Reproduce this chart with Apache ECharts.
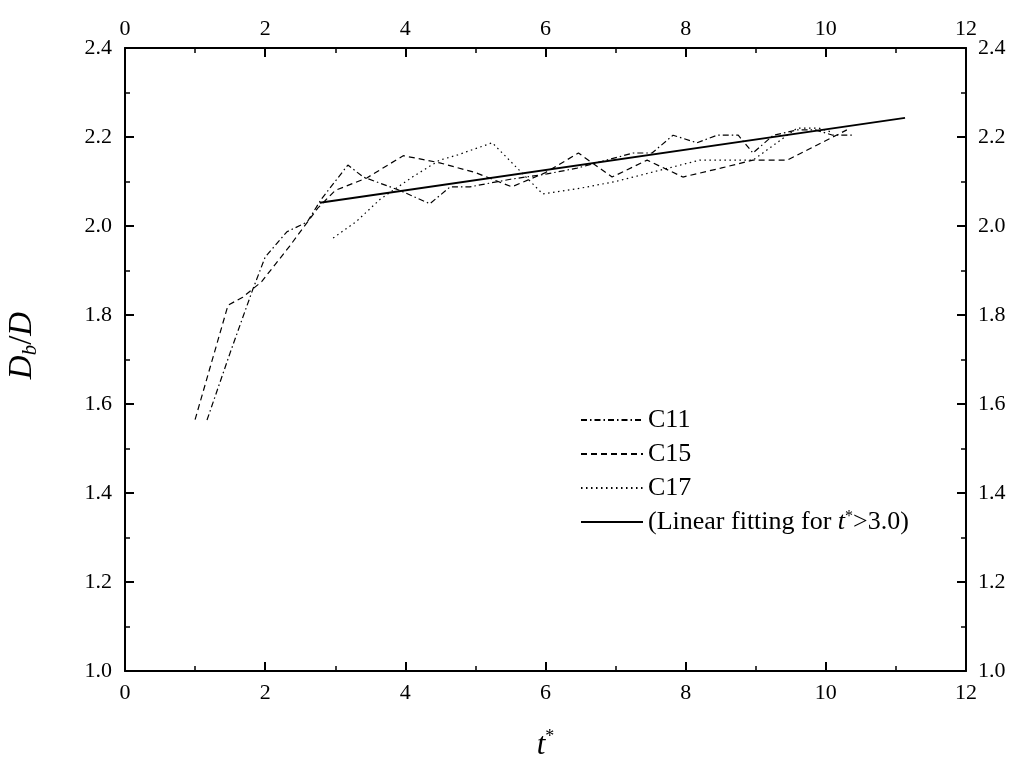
<!DOCTYPE html>
<html>
<head>
<meta charset="utf-8">
<script src="https://cdn.jsdelivr.net/npm/echarts@6/dist/echarts.min.js"></script>
<style>html,body{margin:0;padding:0;background:#fff}#c{width:1015px;height:761px}</style>
</head>
<body>
<div id="c"></div>
<script>
// ---- data ----
var seriesNames = ['C11', 'C15', 'C17', 'fit'];
var tC11 = [1.17, 1.5, 1.82, 2.0, 2.31, 2.6, 2.8, 3.18, 3.4, 3.92, 4.35, 4.64, 4.92, 5.5, 6.02, 6.45, 6.8, 7.25, 7.52, 7.82, 8.16, 8.45, 8.75, 8.96, 9.25, 9.6, 9.85, 10.1, 10.4];
var vC11 = [1.564, 1.715, 1.856, 1.93, 1.987, 2.009, 2.06, 2.137, 2.11, 2.08, 2.05, 2.088, 2.088, 2.105, 2.117, 2.13, 2.145, 2.164, 2.164, 2.204, 2.187, 2.204, 2.204, 2.164, 2.204, 2.216, 2.216, 2.204, 2.204];
var tC15 = [1.0, 1.47, 1.68, 1.95, 2.35, 2.75, 3.0, 3.45, 3.97, 4.49, 5.0, 5.52, 6.0, 6.47, 6.95, 7.45, 7.96, 8.5, 8.96, 9.45, 10.3];
var vC15 = [1.565, 1.822, 1.84, 1.875, 1.955, 2.04, 2.08, 2.108, 2.158, 2.142, 2.12, 2.088, 2.12, 2.164, 2.11, 2.148, 2.11, 2.13, 2.148, 2.148, 2.216];
var tC17 = [2.97, 3.3, 3.64, 4.1, 4.49, 4.75, 5.24, 5.96, 6.5, 7.0, 7.5, 8.0, 8.2, 8.96, 9.59, 9.9, 10.1];
var vC17 = [1.973, 2.01, 2.06, 2.11, 2.148, 2.16, 2.187, 2.072, 2.085, 2.10, 2.12, 2.14, 2.148, 2.148, 2.22, 2.22, 2.21];
var tFit = [2.78, 11.13];
var vFit = [2.052, 2.243];
var xTicks = [0, 2, 4, 6, 8, 10, 12];
var yTicks = [1.0, 1.2, 1.4, 1.6, 1.8, 2.0, 2.2, 2.4];

function zip(a, b) { return a.map(function (x, i) { return [x, b[i]]; }); }

var FONT = '"Liberation Serif", "Times New Roman", serif';
var LBL = 22;
var axisCommon = {
  axisLine: { show: true, onZero: false, lineStyle: { color: '#000', width: 2 } },
  axisTick: { show: true, inside: true, length: 9, lineStyle: { color: '#000', width: 2 } },
  minorTick: { show: true, splitNumber: 2, length: 5, lineStyle: { color: '#000', width: 1.5 } },
  splitLine: { show: false }
};
function merge(a, b) { var o = {}; for (var k in a) o[k] = a[k]; for (var k2 in b) o[k2] = b[k2]; return o; }

var xAxisBase = merge(axisCommon, { type: 'value', min: xTicks[0], max: xTicks[xTicks.length - 1], interval: 2 });
var yAxisBase = merge(axisCommon, { type: 'value', min: yTicks[0], max: yTicks[yTicks.length - 1], interval: 0.2 });
function fmt1(v) { return v.toFixed(1); }

var chart = echarts.init(document.getElementById('c'));
chart.setOption({
  backgroundColor: '#fff',
  animation: false,
  grid: { left: 125, right: 49, top: 48, bottom: 90, containLabel: false, outerBoundsMode: 'none' },
  legend: {
    left: 575, top: 402, orient: 'vertical', itemWidth: 62, itemHeight: 10, itemGap: 8,
    data: ['C11', 'C15', 'C17', 'fit'],
    itemStyle: { opacity: 0 },
    formatter: function (n) { return n === 'fit' ? '(Linear fitting for {i|t}{sup|*}>3.0)' : n; },
    textStyle: {
      color: '#000', fontFamily: FONT, fontSize: 26, lineHeight: 26,
      rich: {
        i: { fontFamily: FONT, fontSize: 26, fontStyle: 'italic', color: '#000', lineHeight: 26 },
        sup: { fontFamily: FONT, fontSize: 16, color: '#000', lineHeight: 26, verticalAlign: 'top' }
      }
    }
  },
  xAxis: [
    merge(xAxisBase, {
      position: 'bottom',
      axisLabel: { color: '#000', fontFamily: FONT, fontSize: LBL, margin: 11 },
      name: '{i|t}{sup|*}', nameLocation: 'middle', nameGap: 57,
      nameTextStyle: {
        rich: {
          i: { fontFamily: FONT, fontSize: 31, fontStyle: 'italic', color: '#000' },
          sup: { fontFamily: FONT, fontSize: 18, color: '#000', padding: [0, 0, 18, 0] }
        }
      }
    }),
    merge(xAxisBase, { position: 'top', axisLabel: { color: '#000', fontFamily: FONT, fontSize: LBL, margin: 8 } })
  ],
  yAxis: [
    merge(yAxisBase, {
      position: 'left',
      axisLabel: { color: '#000', fontFamily: FONT, fontSize: LBL, margin: 13, formatter: fmt1 },
      name: '{i|D}{sub|b}{n|/}{i|D}', nameLocation: 'middle', nameGap: 84, nameRotate: 90,
      nameTextStyle: {
        padding: [0, 0, 0, 28],
        rich: {
          i: { fontFamily: FONT, fontSize: 33, fontStyle: 'italic', color: '#000' },
          n: { fontFamily: FONT, fontSize: 33, color: '#000' },
          sub: { fontFamily: FONT, fontSize: 21, fontStyle: 'italic', color: '#000', padding: [16, 0, 0, 0] }
        }
      }
    }),
    merge(yAxisBase, {
      position: 'right',
      axisLabel: { color: '#000', fontFamily: FONT, fontSize: LBL, margin: 12, formatter: fmt1 }
    })
  ],
  series: [
    { name: 'C11', type: 'line', data: zip(tC11, vC11), showSymbol: false, symbol: 'none',
      lineStyle: { color: '#000', width: 1.2, type: [6, 3, 1.5, 3] } },
    { name: 'C15', type: 'line', data: zip(tC15, vC15), showSymbol: false, symbol: 'none',
      lineStyle: { color: '#000', width: 1.2, type: [6, 4] } },
    { name: 'C17', type: 'line', data: zip(tC17, vC17), showSymbol: false, symbol: 'none',
      lineStyle: { color: '#000', width: 1.2, type: [1.5, 3.5] } },
    { name: 'fit', type: 'line', data: zip(tFit, vFit), showSymbol: false, symbol: 'none',
      lineStyle: { color: '#000', width: 2, type: 'solid' } }
  ]
});
</script>
</body>
</html>
